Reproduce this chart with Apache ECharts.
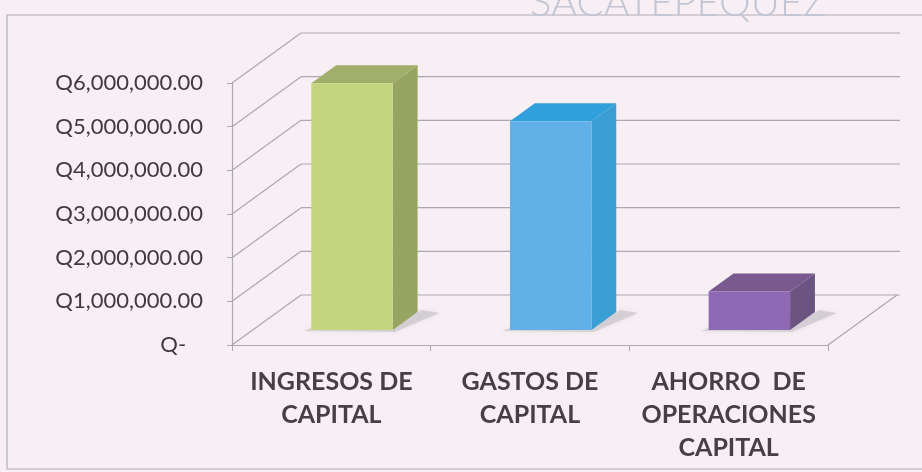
<!DOCTYPE html>
<html>
<head>
<meta charset="utf-8">
<script src="https://cdn.jsdelivr.net/npm/echarts@6/dist/echarts.min.js"></script>
<style>
html,body{margin:0;padding:0;background:#f8eff4;}
#c{width:922px;height:472px;}
</style>
</head>
<body>
<div id="c"></div>
<script>
const categories = ['INGRESOS DE\nCAPITAL', 'GASTOS DE\nCAPITAL', 'AHORRO  DE\nOPERACIONES\nCAPITAL'];
const values = [5650000, 4780000, 880000];
const yMin = 0, yMax = 6000000, yInterval = 1000000;
const yTicks = [0, 1000000, 2000000, 3000000, 4000000, 5000000, 6000000];
const frontColors = ['#c4d47f', '#62b0e8', '#8f69b6'];
const sideColors = ['#97a462', '#3a9dd4', '#6c5481'];
const topColors = ['#a2af6b', '#2fa0dc', '#79598e'];
const headerText = 'SACATEPEQUEZ';

// 3D layout constants (pixels / fractions)
const DX = 69, DY = -50, F1 = 0.30, F2 = 0.66, BAR_W = 0.41;
const lineColor = '#a9a9b1';

function fmtQ(v) {
  if (v === 0) return 'Q-   ';
  return 'Q' + v.toLocaleString('en-US', {minimumFractionDigits: 2, maximumFractionDigits: 2});
}

const chart = echarts.init(document.getElementById('c'), null, {renderer: 'canvas'});

const frameData = yTicks.map(v => [0, v]);
const barData = values.map((v, i) => [i, v]);

chart.setOption({
  backgroundColor: '#f8eff4',
  animation: false,
  graphic: [
    {type: 'rect', shape: {x: 7, y: 15, width: 930, height: 454}, style: {fill: 'none', stroke: '#aeaeb6', lineWidth: 1.2}, z: -10},
    {type: 'text', x: 530, y: 3, style: {text: headerText, font: '300 40px Lato, "Open Sans", sans-serif', fill: '#c2c5d4', verticalAlign: 'middle', align: 'left'}, z: -5}
  ],
  grid: {left: 232, right: 94, top: 83, bottom: 127},
  xAxis: {
    type: 'category',
    data: categories,
    axisLine: {show: true, lineStyle: {color: lineColor, width: 1.2}},
    axisTick: {show: true, length: 6, lineStyle: {color: lineColor}},
    axisLabel: {
      color: '#454048', fontFamily: 'Lato', fontWeight: 'bold', fontSize: 25,
      lineHeight: 33, margin: 20, interval: 0
    },
    splitLine: {show: false}
  },
  yAxis: {
    type: 'value', min: yMin, max: yMax, interval: yInterval,
    axisLine: {show: true, lineStyle: {color: lineColor, width: 1.2}},
    axisTick: {show: true, length: 5, lineStyle: {color: lineColor}},
    axisLabel: {color: '#3e3a40', fontFamily: 'Lato', fontSize: 22, margin: 29, formatter: fmtQ},
    splitLine: {show: false}
  },
  series: [
    {
      type: 'custom',
      z: 1,
      silent: true,
      clip: false,
      data: frameData,
      encode: {x: 0, y: 1},
      renderItem: function (params, api) {
        const v = api.value(1);
        const band = api.size([1, 0])[0];
        const p0 = api.coord([0, v]);
        const pn = api.coord([categories.length - 1, v]);
        const xl = p0[0] - band / 2;
        const xr = pn[0] + band / 2;
        const y = p0[1];
        const children = [
          {type: 'line', shape: {x1: xl + DX, y1: y + DY, x2: xr + DX + 3, y2: y + DY}, style: {stroke: lineColor, lineWidth: 1.2}},
          {type: 'line', shape: {x1: xl, y1: y, x2: xl + DX, y2: y + DY}, style: {stroke: lineColor, lineWidth: 1.2}}
        ];
        if (v === yMin) {
          children.push({type: 'line', shape: {x1: xr, y1: y, x2: xr + DX, y2: y + DY}, style: {stroke: lineColor, lineWidth: 1.2}});
        }
        return {type: 'group', children: children};
      }
    },
    {
      type: 'custom',
      z: 2,
      clip: false,
      data: barData,
      encode: {x: 0, y: 1},
      renderItem: function (params, api) {
        const i = api.value(0);
        const v = api.value(1);
        const band = api.size([1, 0])[0];
        const base = api.coord([i, 0]);
        const topP = api.coord([i, v]);
        const w = band * BAR_W;
        const cx = base[0] + F1 * DX;
        const yb = base[1] + F1 * DY;
        const yt = topP[1] + F1 * DY;
        const l = cx - w / 2, r = cx + w / 2;
        const ddx = (F2 - F1) * DX, ddy = (F2 - F1) * DY;
        return {
          type: 'group',
          children: [
            {type: 'polygon', shape: {points: [[l - 8, yb + 1], [r + 2, yb + 2], [r + ddx + 22, yb + ddy + 1], [r + ddx + 4, yb + ddy - 2], [r, yb - 2], [l, yb - 2]]},
              style: {fill: 'rgba(165,165,172,0.35)', shadowBlur: 5, shadowColor: 'rgba(165,165,172,0.5)'}},
            {type: 'polygon', shape: {points: [[r, yb], [r, yt], [r + ddx, yt + ddy], [r + ddx, yb + ddy]]}, style: {fill: sideColors[i]}},
            {type: 'polygon', shape: {points: [[l, yt], [r, yt], [r + ddx, yt + ddy], [l + ddx, yt + ddy]]}, style: {fill: topColors[i]}},
            {type: 'rect', shape: {x: l, y: yt, width: w, height: yb - yt}, style: {fill: frontColors[i]}}
          ]
        };
      }
    }
  ]
});
</script>
</body>
</html>
